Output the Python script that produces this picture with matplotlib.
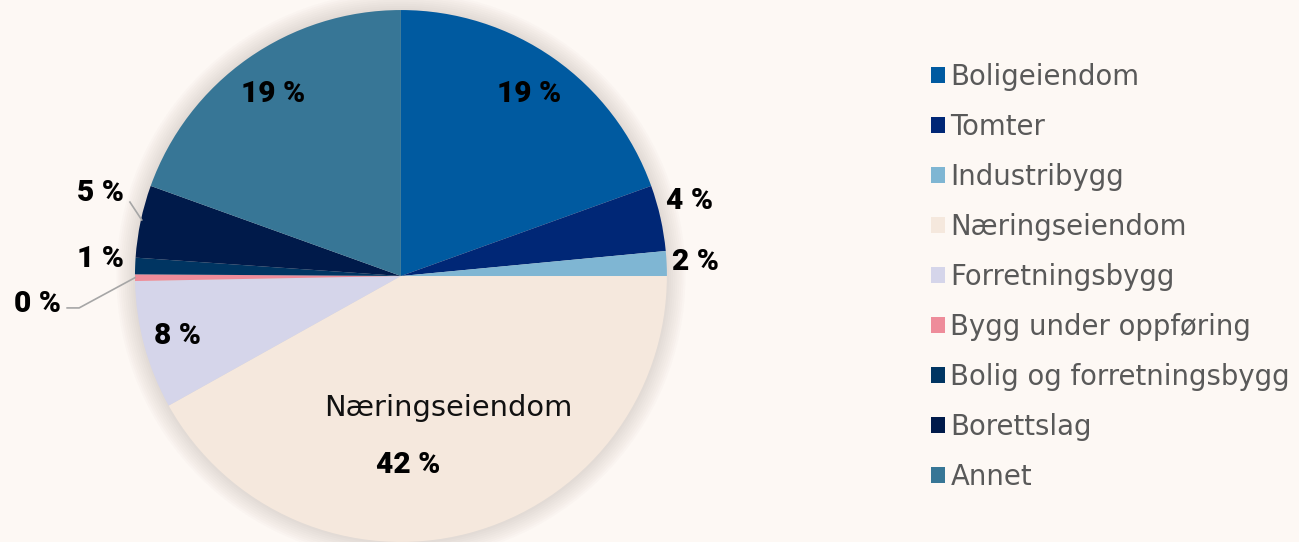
import matplotlib.pyplot as plt
import numpy as np
from matplotlib.patches import Patch, Circle

# Data (share of portfolio, %)
categories = ['Boligeiendom', 'Tomter', 'Industribygg', 'Næringseiendom',
              'Forretningsbygg', 'Bygg under oppføring',
              'Bolig og forretningsbygg', 'Borettslag', 'Annet']
shares = [19.5, 4.0, 1.5, 41.9, 7.8, 0.4, 1.0, 4.4, 19.5]
pct_labels = ['19 %', '4 %', '2 %', '42 %', '8 %', '0 %', '1 %', '5 %', '19 %']

colors = ['#005AA0', '#002776', '#7FB6D3', '#F5E8DD', '#D5D5EA',
          '#EE8C9A', '#003562', '#001A4A', '#377696']

bg = '#FDF8F4'
plt.rcParams['font.family'] = ['DejaVu Sans']
pct_font = dict(family=['Roboto', 'DejaVu Sans'], fontsize=21.5,
                fontweight='black', color='#000000')

fig = plt.figure(figsize=(12.99, 5.42), dpi=100, facecolor=bg)
ax = fig.add_axes([0.1039, 0.0, 0.4095, 0.9815])
ax.set_facecolor(bg)

# soft glow behind the pie
for r in np.linspace(1.07, 1.0, 10):
    ax.add_patch(Circle((0.0, 0.0), r, color='#6b5a50', alpha=0.02, lw=0,
                        clip_on=False))

wedges, _ = ax.pie(shares, colors=colors, startangle=90, counterclock=False,
                   radius=1, wedgeprops=dict(linewidth=0))

# label placement: (radius, angle offset in degrees from wedge middle)
label_pos = {0: (0.835, 0), 1: (1.12, 2), 2: (1.11, 0), 4: (0.87, 0),
             5: (1.37, 4), 6: (1.13, -1), 7: (1.17, -3.5), 8: (0.835, 0)}

for i, w in enumerate(wedges):
    mid = (w.theta1 + w.theta2) / 2
    if i == 3:
        ax.text(0.177, -0.496, categories[i], ha='center', va='center',
                fontsize=20.8, color='#111111')
        ax.text(0.026, -0.71, pct_labels[i], ha='center', va='center',
                **pct_font)
        continue
    r, off = label_pos[i]
    a = np.deg2rad(mid + off)
    ax.text(r * np.cos(a), r * np.sin(a), pct_labels[i], ha='center',
            va='center', **pct_font)

# leader lines
m5 = np.deg2rad((wedges[5].theta1 + wedges[5].theta2) / 2)
ex, ey = np.cos(m5), np.sin(m5)
ax.plot([ex, -1.21, -1.255], [ey, -0.12, -0.12], color='#A6A6A6', lw=1.2,
        clip_on=False)
m7 = np.deg2rad(167.8)
ax.plot([0.997 * np.cos(m7), -1.019], [0.997 * np.sin(m7), 0.278],
        color='#A6A6A6', lw=1.2, clip_on=False)

ax.set_xlim(-1, 1)
ax.set_ylim(-1, 1)
ax.set_aspect('equal')
ax.axis('off')

handles = [Patch(facecolor=c, edgecolor='none') for c in colors]
fig.legend(handles, categories, loc='upper left', bbox_to_anchor=(0.6977, 0.93),
           frameon=False, fontsize=19.8, handlelength=0.52, handleheight=0.52,
           handletextpad=0.18, labelspacing=0.8, labelcolor='#595959')

fig.savefig('out.png', dpi=100, facecolor=bg)
